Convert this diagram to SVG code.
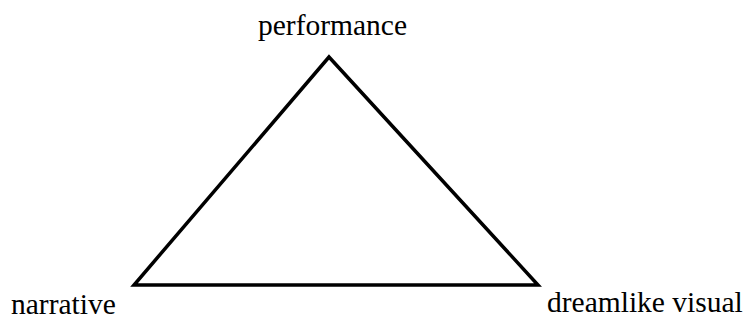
<svg xmlns="http://www.w3.org/2000/svg" width="746" height="320" viewBox="0 0 746 320">
<style>
.lbl{font-family:"Liberation Serif","Times New Roman",serif;font-size:29.5px;fill:#000}
.edge{fill:none;stroke:#000;stroke-width:3.5;stroke-linejoin:miter}
</style>
<rect width="746" height="320" fill="#fff"/>
<g id="connectors">
<polygon class="edge" points="329,57 538,285 134,285"/>
</g>
<g id="node-performance"><text class="lbl" x="258" y="35">performance</text></g>
<g id="node-narrative"><text class="lbl" x="11" y="314">narrative</text></g>
<g id="node-dreamlike"><text class="lbl" x="547" y="312">dreamlike visual</text></g>
</svg>
